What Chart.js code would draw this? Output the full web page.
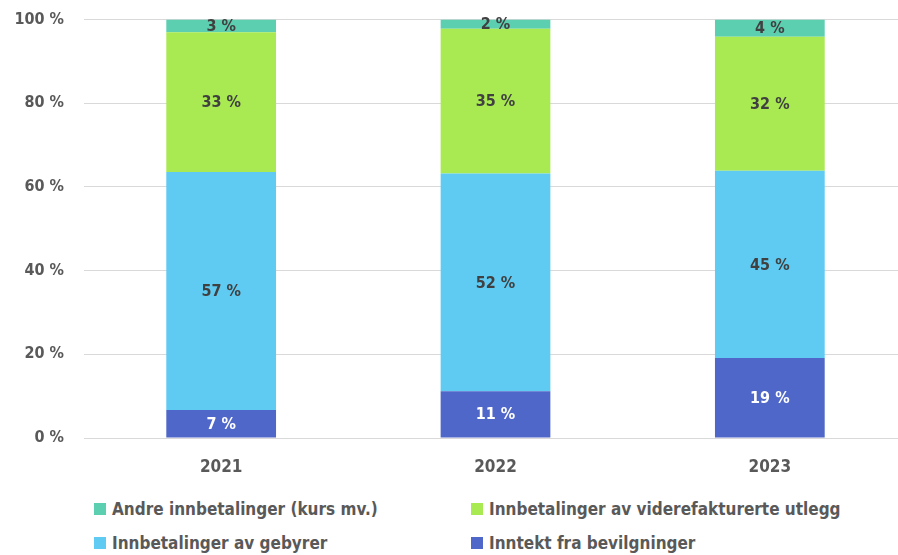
<!DOCTYPE html>
<html>
<head>
<meta charset="utf-8">
<script src="https://cdn.jsdelivr.net/npm/chart.js@4"></script>
<style>
  html, body { margin: 0; padding: 0; background: #fff; overflow: hidden; }
  #wrap { position: relative; width: 898px; height: 555px; overflow: hidden; }
  #box { position: absolute; left: 0; top: -10px; width: 910px; height: 500px; }
  .legend-item {
    position: absolute; display: flex; align-items: center; white-space: nowrap;
    font-family: "Liberation Sans Narrow", "DejaVu Sans Condensed", sans-serif;
    font-weight: bold; font-size: 17px; color: #595959; line-height: 20px;
  }
  .legend-item span.sw { display: inline-block; width: 12px; height: 12px; margin-right: 6px; }
</style>
</head>
<body>
<div id="wrap">
  <div id="box"><canvas id="chart"></canvas></div>
</div>
<script>
// data (percent of total per year)
const years = ['2021', '2022', '2023'];
const bevilgninger = [6.7, 11.2, 19.1];
const gebyrer = [56.9, 52.0, 44.8];
const utlegg = [33.4, 34.6, 32.0];
const andre = [3.0, 2.2, 4.1];
const yTicks = [0, 20, 40, 60, 80, 100];

const FONT = '"Liberation Sans Narrow", "DejaVu Sans Condensed", sans-serif';

// stacking order bottom -> top
const series = [
  { label: 'Inntekt fra bevilgninger', data: bevilgninger, color: '#4F67C8', text: '#ffffff' },
  { label: 'Innbetalinger av gebyrer', data: gebyrer, color: '#5FCBF2', text: '#404040' },
  { label: 'Innbetalinger av viderefakturerte utlegg', data: utlegg, color: '#A9EA52', text: '#404040' },
  { label: 'Andre innbetalinger (kurs mv.)', data: andre, color: '#5DCFB1', text: '#404040' }
];

// labels inside each segment
const segmentLabels = {
  id: 'segmentLabels',
  afterDatasetsDraw(chart) {
    const ctx = chart.ctx;
    ctx.save();
    ctx.font = 'bold 16px ' + FONT;
    ctx.textAlign = 'center';
    ctx.textBaseline = 'middle';
    chart.data.datasets.forEach((ds, i) => {
      const meta = chart.getDatasetMeta(i);
      meta.data.forEach((bar, j) => {
        ctx.fillStyle = series[i].text;
        ctx.fillText(Math.round(ds.data[j]) + ' %', bar.x, (bar.y + bar.base) / 2 + 1);
      });
    });
    ctx.restore();
  }
};

new Chart(document.getElementById('chart').getContext('2d'), {
  type: 'bar',
  data: {
    labels: years,
    datasets: series.map(s => ({
      label: s.label,
      data: s.data,
      backgroundColor: s.color,
      borderWidth: 0,
      categoryPercentage: 0.4,
      barPercentage: 1
    }))
  },
  options: {
    responsive: true,
    maintainAspectRatio: false,
    animation: false,
    layout: { padding: { top: 8, right: 3, left: 0, bottom: 0 } },
    plugins: {
      legend: { display: false },
      tooltip: { enabled: false }
    },
    scales: {
      x: {
        stacked: true,
        grid: { display: false, drawTicks: false },
        border: { display: true, color: '#d9d9d9' },
        ticks: { color: '#595959', font: { family: FONT, size: 17, weight: 'bold' }, padding: 19 },
        afterFit: (scale) => { scale.height = 52; }
      },
      y: {
        stacked: true,
        min: 0,
        max: 100,
        afterBuildTicks: (scale) => { scale.ticks = yTicks.map(v => ({ value: v })); },
        grid: { color: '#d9d9d9', drawTicks: false },
        border: { display: false },
        ticks: {
          color: '#595959',
          font: { family: FONT, size: 16, weight: 'bold' },
          padding: 20,
          callback: (v) => v + ' %'
        },
        afterFit: (scale) => { scale.width = 84; }
      }
    }
  },
  plugins: [segmentLabels]
});

// legend: two columns, two rows, same order as the original
const legendOrder = [
  { s: series[3], x: 94, y: 499 },
  { s: series[2], x: 471, y: 499 },
  { s: series[1], x: 94, y: 533 },
  { s: series[0], x: 471, y: 533 }
];
const wrap = document.getElementById('wrap');
legendOrder.forEach(item => {
  const el = document.createElement('div');
  el.className = 'legend-item';
  el.style.left = item.x + 'px';
  el.style.top = item.y + 'px';
  const sw = document.createElement('span');
  sw.className = 'sw';
  sw.style.background = item.s.color;
  el.appendChild(sw);
  el.appendChild(document.createTextNode(item.s.label));
  wrap.appendChild(el);
});
</script>
</body>
</html>
